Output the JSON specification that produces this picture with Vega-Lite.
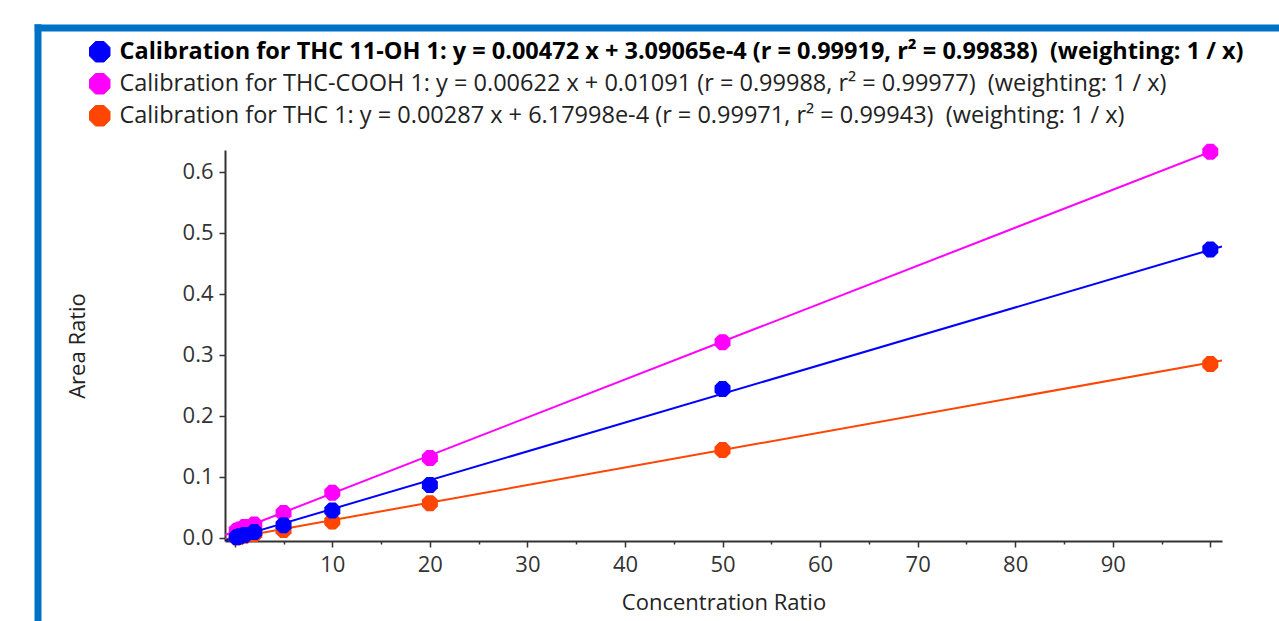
{
  "$schema": "https://vega.github.io/schema/vega-lite/v6.json",
  "width": 997,
  "height": 391,
  "autosize": {"type": "none"},
  "padding": {"left": 225, "top": 150, "right": 57, "bottom": 80},
  "background": "white",
  "config": {
    "view": {"stroke": null},
    "font": "Open Sans"
  },
  "datasets": {
    "points": [
      {"series": "Calibration for THC-COOH 1: y = 0.00622 x + 0.01091 (r = 0.99988, r² = 0.99977)\u00a0 (weighting: 1 / x)", "x": 0.2, "y": 0.012},
      {"series": "Calibration for THC-COOH 1: y = 0.00622 x + 0.01091 (r = 0.99988, r² = 0.99977)\u00a0 (weighting: 1 / x)", "x": 0.5, "y": 0.014},
      {"series": "Calibration for THC-COOH 1: y = 0.00622 x + 0.01091 (r = 0.99988, r² = 0.99977)\u00a0 (weighting: 1 / x)", "x": 1, "y": 0.018},
      {"series": "Calibration for THC-COOH 1: y = 0.00622 x + 0.01091 (r = 0.99988, r² = 0.99977)\u00a0 (weighting: 1 / x)", "x": 2, "y": 0.022},
      {"series": "Calibration for THC-COOH 1: y = 0.00622 x + 0.01091 (r = 0.99988, r² = 0.99977)\u00a0 (weighting: 1 / x)", "x": 5, "y": 0.041},
      {"series": "Calibration for THC-COOH 1: y = 0.00622 x + 0.01091 (r = 0.99988, r² = 0.99977)\u00a0 (weighting: 1 / x)", "x": 10, "y": 0.074},
      {"series": "Calibration for THC-COOH 1: y = 0.00622 x + 0.01091 (r = 0.99988, r² = 0.99977)\u00a0 (weighting: 1 / x)", "x": 20, "y": 0.131},
      {"series": "Calibration for THC-COOH 1: y = 0.00622 x + 0.01091 (r = 0.99988, r² = 0.99977)\u00a0 (weighting: 1 / x)", "x": 50, "y": 0.321},
      {"series": "Calibration for THC-COOH 1: y = 0.00622 x + 0.01091 (r = 0.99988, r² = 0.99977)\u00a0 (weighting: 1 / x)", "x": 100, "y": 0.633},
      {"series": "Calibration for THC 1: y = 0.00287 x + 6.17998e-4 (r = 0.99971, r² = 0.99943)\u00a0 (weighting: 1 / x)", "x": 0.2, "y": 0.0012},
      {"series": "Calibration for THC 1: y = 0.00287 x + 6.17998e-4 (r = 0.99971, r² = 0.99943)\u00a0 (weighting: 1 / x)", "x": 0.5, "y": 0.002},
      {"series": "Calibration for THC 1: y = 0.00287 x + 6.17998e-4 (r = 0.99971, r² = 0.99943)\u00a0 (weighting: 1 / x)", "x": 1, "y": 0.0035},
      {"series": "Calibration for THC 1: y = 0.00287 x + 6.17998e-4 (r = 0.99971, r² = 0.99943)\u00a0 (weighting: 1 / x)", "x": 2, "y": 0.0065},
      {"series": "Calibration for THC 1: y = 0.00287 x + 6.17998e-4 (r = 0.99971, r² = 0.99943)\u00a0 (weighting: 1 / x)", "x": 5, "y": 0.013},
      {"series": "Calibration for THC 1: y = 0.00287 x + 6.17998e-4 (r = 0.99971, r² = 0.99943)\u00a0 (weighting: 1 / x)", "x": 10, "y": 0.027},
      {"series": "Calibration for THC 1: y = 0.00287 x + 6.17998e-4 (r = 0.99971, r² = 0.99943)\u00a0 (weighting: 1 / x)", "x": 20, "y": 0.057},
      {"series": "Calibration for THC 1: y = 0.00287 x + 6.17998e-4 (r = 0.99971, r² = 0.99943)\u00a0 (weighting: 1 / x)", "x": 50, "y": 0.144},
      {"series": "Calibration for THC 1: y = 0.00287 x + 6.17998e-4 (r = 0.99971, r² = 0.99943)\u00a0 (weighting: 1 / x)", "x": 100, "y": 0.285},
      {"series": "Calibration for THC 11-OH 1: y = 0.00472 x + 3.09065e-4 (r = 0.99919, r² = 0.99838)\u00a0 (weighting: 1 / x)", "x": 0.2, "y": 0.0013},
      {"series": "Calibration for THC 11-OH 1: y = 0.00472 x + 3.09065e-4 (r = 0.99919, r² = 0.99838)\u00a0 (weighting: 1 / x)", "x": 0.5, "y": 0.0027},
      {"series": "Calibration for THC 11-OH 1: y = 0.00472 x + 3.09065e-4 (r = 0.99919, r² = 0.99838)\u00a0 (weighting: 1 / x)", "x": 1, "y": 0.005},
      {"series": "Calibration for THC 11-OH 1: y = 0.00472 x + 3.09065e-4 (r = 0.99919, r² = 0.99838)\u00a0 (weighting: 1 / x)", "x": 2, "y": 0.0097},
      {"series": "Calibration for THC 11-OH 1: y = 0.00472 x + 3.09065e-4 (r = 0.99919, r² = 0.99838)\u00a0 (weighting: 1 / x)", "x": 5, "y": 0.021},
      {"series": "Calibration for THC 11-OH 1: y = 0.00472 x + 3.09065e-4 (r = 0.99919, r² = 0.99838)\u00a0 (weighting: 1 / x)", "x": 10, "y": 0.045},
      {"series": "Calibration for THC 11-OH 1: y = 0.00472 x + 3.09065e-4 (r = 0.99919, r² = 0.99838)\u00a0 (weighting: 1 / x)", "x": 20, "y": 0.087},
      {"series": "Calibration for THC 11-OH 1: y = 0.00472 x + 3.09065e-4 (r = 0.99919, r² = 0.99838)\u00a0 (weighting: 1 / x)", "x": 50, "y": 0.244},
      {"series": "Calibration for THC 11-OH 1: y = 0.00472 x + 3.09065e-4 (r = 0.99919, r² = 0.99838)\u00a0 (weighting: 1 / x)", "x": 100, "y": 0.473}
    ],
    "fits": [
      {"series": "Calibration for THC-COOH 1: y = 0.00622 x + 0.01091 (r = 0.99988, r² = 0.99977)\u00a0 (weighting: 1 / x)", "x": -1, "y": 0.0047},
      {"series": "Calibration for THC-COOH 1: y = 0.00622 x + 0.01091 (r = 0.99988, r² = 0.99977)\u00a0 (weighting: 1 / x)", "x": 101.2, "y": 0.6404},
      {"series": "Calibration for THC 1: y = 0.00287 x + 6.17998e-4 (r = 0.99971, r² = 0.99943)\u00a0 (weighting: 1 / x)", "x": -1, "y": -0.0023},
      {"series": "Calibration for THC 1: y = 0.00287 x + 6.17998e-4 (r = 0.99971, r² = 0.99943)\u00a0 (weighting: 1 / x)", "x": 101.2, "y": 0.2911},
      {"series": "Calibration for THC 11-OH 1: y = 0.00472 x + 3.09065e-4 (r = 0.99919, r² = 0.99838)\u00a0 (weighting: 1 / x)", "x": -1, "y": -0.0044},
      {"series": "Calibration for THC 11-OH 1: y = 0.00472 x + 3.09065e-4 (r = 0.99919, r² = 0.99838)\u00a0 (weighting: 1 / x)", "x": 101.2, "y": 0.4780}
    ]
  },
  "layer": [
    {
      "data": {"values": [{}]},
      "mark": {"type": "rule", "clip": false, "color": "#0072c6", "strokeWidth": 7},
      "encoding": {
        "x": {"datum": -20.17, "type": "quantitative"},
        "y": {"datum": 0.842, "type": "quantitative"},
        "y2": {"datum": -0.3}
      }
    },
    {
      "data": {"values": [{}]},
      "mark": {"type": "rule", "clip": false, "color": "#0072c6", "strokeWidth": 7},
      "encoding": {
        "y": {"datum": 0.836, "type": "quantitative"},
        "x": {"datum": -20.5, "type": "quantitative"},
        "x2": {"datum": 130}
      }
    },
    {
      "data": {"name": "fits"},
      "mark": {"type": "line", "clip": true, "strokeWidth": 2},
      "encoding": {
        "x": {"field": "x", "type": "quantitative"},
        "y": {"field": "y", "type": "quantitative"},
        "color": {"field": "series", "type": "nominal"},
        "detail": {"field": "series"}
      }
    },
    {
      "data": {"name": "points"},
      "mark": {
        "type": "point",
        "filled": true,
        "opacity": 1,
        "size": 256,
        "shape": "M-0.414,-1L0.414,-1L1,-0.414L1,0.414L0.414,1L-0.414,1L-1,0.414L-1,-0.414Z"
      },
      "encoding": {
        "x": {
          "field": "x",
          "type": "quantitative",
          "scale": {"domain": [-1, 101.2], "nice": false, "zero": false},
          "axis": {
            "title": "Concentration Ratio",
            "values": [0, 5, 10, 15, 20, 25, 30, 35, 40, 45, 50, 55, 60, 65, 70, 75, 80, 85, 90, 95, 100],
            "format": "d",
            "labelExpr": "datum.value % 10 == 0 && datum.value > 0 && datum.value < 100 ? datum.label : ''",
            "grid": false,
            "domainColor": "#333333",
            "domainWidth": 2,
            "tickColor": "#333333",
            "tickWidth": 1.5,
            "tickSize": {"condition": {"test": "datum.value % 10 == 0", "value": 6}, "value": 3},
            "labelFont": "Open Sans",
            "labelFontSize": 22,
            "labelColor": "#333333",
            "labelPadding": 7,
            "labelFlush": false,
            "labelOverlap": false,
            "titleFont": "Open Sans",
            "titleFontSize": 22,
            "titleFontWeight": "normal",
            "titleColor": "#222222",
            "titlePadding": 17
          }
        },
        "y": {
          "field": "y",
          "type": "quantitative",
          "scale": {"domain": [-0.005, 0.636], "nice": false, "zero": false},
          "axis": {
            "title": "Area Ratio",
            "values": [0, 0.05, 0.1, 0.15, 0.2, 0.25, 0.3, 0.35, 0.4, 0.45, 0.5, 0.55, 0.6],
            "labelExpr": "round(datum.value * 100) % 10 == 0 ? format(datum.value, '.1f') : ''",
            "grid": false,
            "domainColor": "#333333",
            "domainWidth": 2,
            "tickColor": "#333333",
            "tickWidth": 1.5,
            "tickSize": {"condition": {"test": "round(datum.value * 100) % 10 == 0", "value": 6}, "value": 3},
            "labelFont": "Open Sans",
            "labelFontSize": 22,
            "labelColor": "#333333",
            "labelPadding": 6,
            "labelFlush": false,
            "labelOverlap": false,
            "titleFont": "Open Sans",
            "titleFontSize": 22,
            "titleFontWeight": "normal",
            "titleColor": "#222222",
            "titlePadding": 93
          }
        },
        "color": {
          "field": "series",
          "type": "nominal",
          "sort": [
            "Calibration for THC 11-OH 1: y = 0.00472 x + 3.09065e-4 (r = 0.99919, r² = 0.99838)\u00a0 (weighting: 1 / x)",
            "Calibration for THC-COOH 1: y = 0.00622 x + 0.01091 (r = 0.99988, r² = 0.99977)\u00a0 (weighting: 1 / x)",
            "Calibration for THC 1: y = 0.00287 x + 6.17998e-4 (r = 0.99971, r² = 0.99943)\u00a0 (weighting: 1 / x)"
          ],
          "scale": {
            "domain": [
              "Calibration for THC 11-OH 1: y = 0.00472 x + 3.09065e-4 (r = 0.99919, r² = 0.99838)\u00a0 (weighting: 1 / x)",
              "Calibration for THC-COOH 1: y = 0.00622 x + 0.01091 (r = 0.99988, r² = 0.99977)\u00a0 (weighting: 1 / x)",
              "Calibration for THC 1: y = 0.00287 x + 6.17998e-4 (r = 0.99971, r² = 0.99943)\u00a0 (weighting: 1 / x)"
            ],
            "range": ["#0000ff", "#ff00ff", "#ff4500"]
          },
          "legend": {
            "title": null,
            "orient": "none",
            "legendX": -137,
            "legendY": -110,
            "symbolType": "M-0.414,-1L0.414,-1L1,-0.414L1,0.414L0.414,1L-0.414,1L-1,0.414L-1,-0.414Z",
            "symbolSize": 420,
            "symbolStrokeColor": "black",
            "symbolStrokeWidth": 1,
            "symbolOpacity": 1,
            "labelFont": "Open Sans",
            "labelFontSize": 23.5,
            "labelColor": "#222222",
            "labelOffset": 8,
            "labelLimit": 0,
            "rowPadding": 7,
            "encode": {
              "labels": {
                "update": {
                  "fontWeight": {"signal": "indexof(datum.value, '11-OH') >= 0 ? 'bold' : 'normal'"},
                  "fill": {"signal": "indexof(datum.value, '11-OH') >= 0 ? '#000000' : '#222222'"}
                }
              }
            }
          }
        }
      }
    }
  ]
}
